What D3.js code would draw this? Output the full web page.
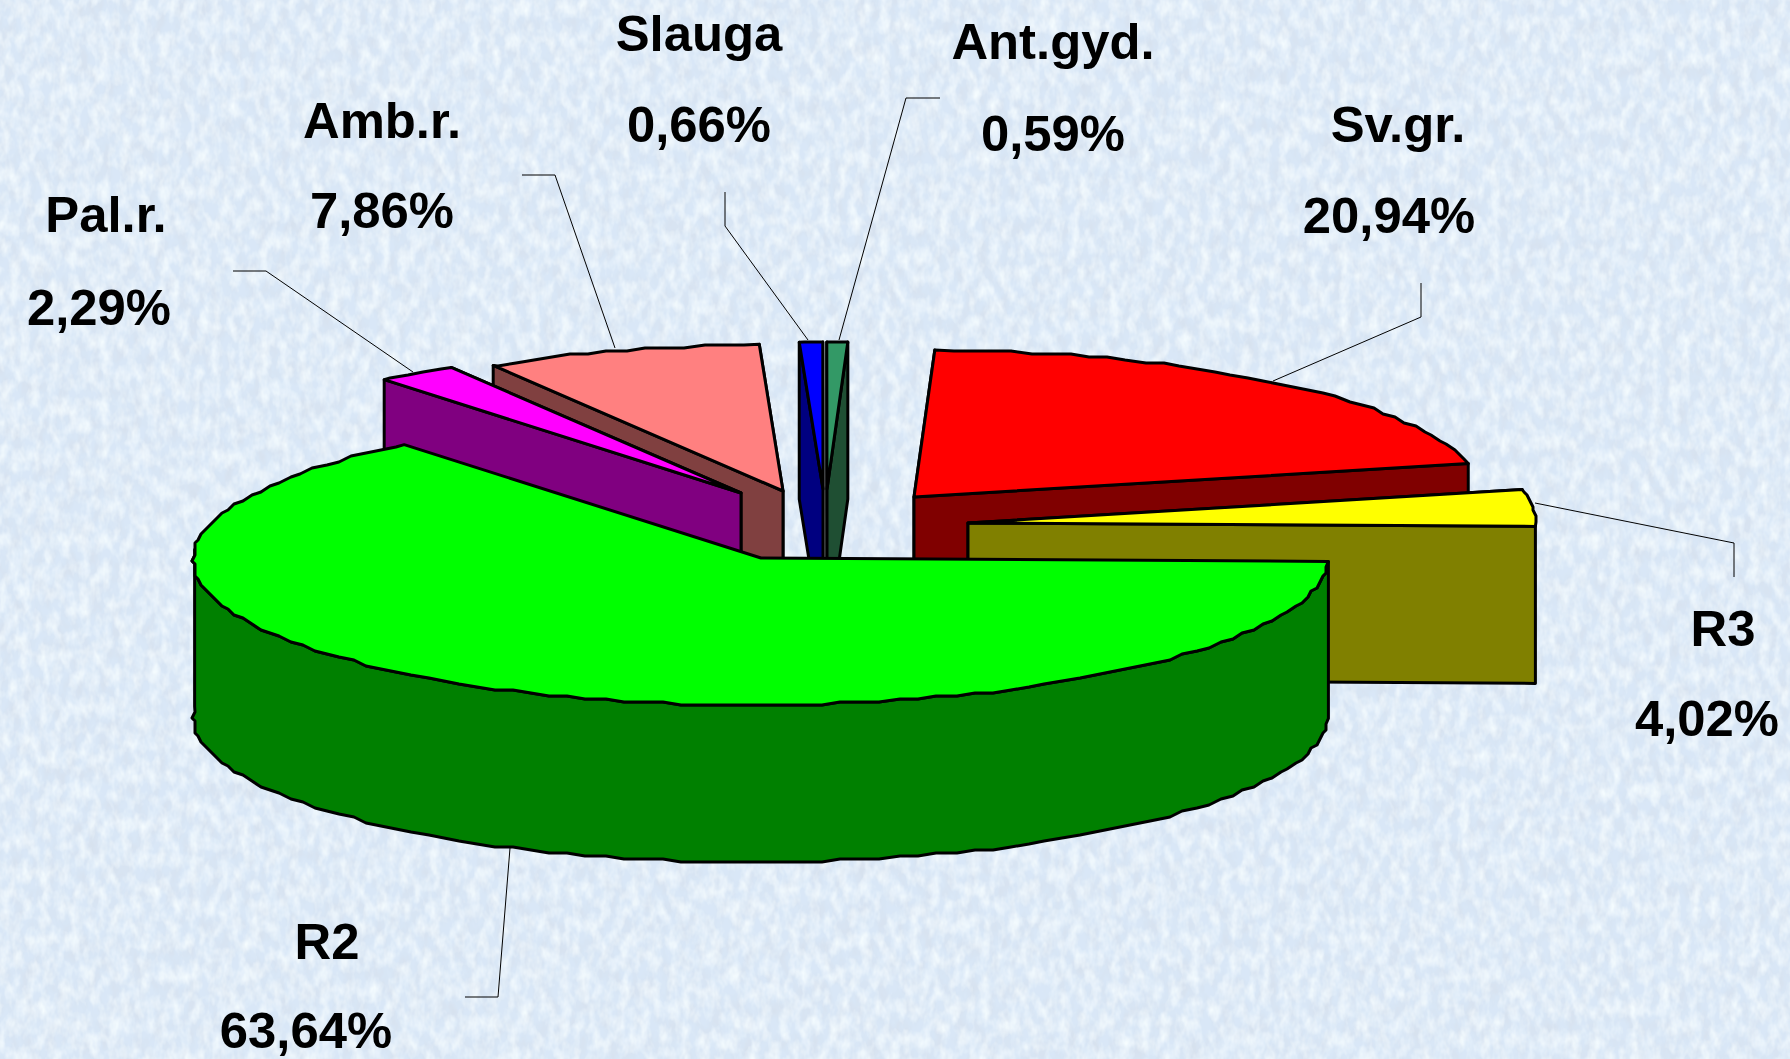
<!DOCTYPE html>
<html><head><meta charset="utf-8">
<script src="https://cdn.jsdelivr.net/npm/d3@7"></script>
<style>html,body{margin:0;padding:0;background:#dcebf9;overflow:hidden}svg{display:block}</style>
</head><body>
<svg id="c" width="1790" height="1059"></svg>
<script>
// ---- data ----
const categories = ["R2","Pal.r.","Amb.r.","Slauga","Ant.gyd.","Sv.gr.","R3"];
const shares     = [63.64, 2.29, 7.86, 0.66, 0.59, 20.94, 4.02];
const shareText  = ["63,64%","2,29%","7,86%","0,66%","0,59%","20,94%","4,02%"];
const topColors  = ["#00FF00","#FF00FF","#FF8080","#0000FF","#339966","#FF0000","#FFFF00"];
const sideColors = ["#008000","#800080","#804040","#000080","#1F4F33","#800000","#808000"];

// ---- layout of the exploded slices ----
const apexX = [761,741,783,823,827,914,968];
const apexY = [558,493,491,489,489,497,523];
const labelX = [306,99,382,699,1053,1389,1707];
const nameY  = [959,232,138,51,59,142,646];
const valY   = [1048,325,228,142,151,233,736];
const nameDx = [21,7,0,0,0,9,16];
const leaders = [
 [[465,997],[498,997],[510,848]],
 [[233,271],[266,271],[413,372]],
 [[522,175],[555,175],[615,348]],
 [[725,192],[725,226],[808,340]],
 [[940,98],[906,98],[839,340]],
 [[1421,283],[1421,317],[1273,381]],
 [[1734,577],[1734,543],[1535,503]]
];
const rx = 567.4, ry = 147, shear = 19.4, tilt = 3.4, depth = 157, grid = 3, stepDeg = 2;

const svg = d3.select("#c");
const defs = svg.append("defs");
const f = defs.append("filter").attr("id","tex").attr("x",0).attr("y",0).attr("width","100%").attr("height","100%");
f.append("feTurbulence").attr("type","fractalNoise").attr("baseFrequency","0.09 0.05").attr("numOctaves",3).attr("seed",7).attr("result","n");
f.append("feColorMatrix").attr("in","n").attr("type","matrix")
 .attr("values","0 0 0 0 0.68  0 0 0 0 0.75  0 0 0 0 0.85  1.7 0 0 0 -0.62").attr("result","d");
f.append("feTurbulence").attr("type","fractalNoise").attr("baseFrequency","0.1 0.06").attr("numOctaves",3).attr("seed",21).attr("result","n2");
f.append("feColorMatrix").attr("in","n2").attr("type","matrix")
 .attr("values","0 0 0 0 0.92  0 0 0 0 0.98  0 0 0 0 1  0 1.7 0 0 -0.62").attr("result","l");
f.append("feMerge").selectAll("feMergeNode").data(["SourceGraphic","d","l"]).enter().append("feMergeNode").attr("in",d=>d);
svg.append("rect").attr("width",1790).attr("height",1059).attr("fill","#d9e7f7").attr("filter","url(#tex)");

const xs = d3.scaleLinear().domain([-1,1]).range([-rx,rx]);
const ys = d3.scaleLinear().domain([-1,1]).range([-ry,ry]);
const pie = d3.pie().sort(null).startAngle(Math.PI/2).endAngle(Math.PI*2.5);
const arcs = pie(shares);
const line = d3.line().curve(d3.curveLinearClosed);
const snap = v => Math.round(v/grid)*grid;
const rad = Math.PI/180;

function pt(i,a){ // a: radians clockwise from east
  const c=Math.cos(a), s=Math.sin(a);
  return [apexX[i]+xs(c)-shear*s, apexY[i]+ys(s)+tilt*c];
}
function outer(i,a0,a1){ // samples at fixed angles, so rim and top share their vertices
  const out=[pt(i,a0)];
  for(let d=Math.ceil(a0/rad/stepDeg+0.01)*stepDeg; d*rad<a1-0.001; d+=stepDeg){
    const p=pt(i,d*rad);
    out.push([snap(p[0]),snap(p[1])]);
  }
  out.push(pt(i,a1));
  return out;
}
const down = p => [p[0],p[1]+depth];
const style = (sel,fill)=>sel.attr("fill",fill).attr("stroke","#000").attr("stroke-width",3).attr("stroke-linejoin","round");

// back to front: Amb, Pal, Slauga, Ant, Sv.gr, R3, R2
const order = [2,1,3,4,5,6,0];
const g = svg.append("g");
order.forEach(i=>{
  const a0=arcs[i].startAngle-Math.PI/2, a1=arcs[i].endAngle-Math.PI/2;
  const A=[apexX[i],apexY[i]], S=pt(i,a0), E=pt(i,a1);
  const startWall=[S,A,down(A),down(S)], endWall=[E,A,down(A),down(E)];
  const mid=(a0+a1)/2/rad;
  const walls = mid<268 ? [endWall,startWall] : [startWall,endWall];
  if(i!==0) walls.forEach(w=>style(g.append("path").attr("d",line(w)),sideColors[i]));
  if(a0<Math.PI){
    const rim=outer(i,Math.max(a0,0),Math.min(a1,182*rad));
    style(g.append("path").attr("d",line(rim.concat(rim.slice().reverse().map(down)))),sideColors[i]);
  }
  style(g.append("path").attr("d",line([A].concat(outer(i,a0,a1)))),topColors[i]);
});

// leaders
svg.append("g").selectAll("path").data(leaders).enter().append("path")
  .attr("d",d3.line()).attr("fill","none").attr("stroke","#000").attr("stroke-width",1);

// labels
const t = svg.append("g").attr("font-family","'Liberation Sans',Arial,sans-serif").attr("font-weight",700).attr("font-size",50.8).attr("text-anchor","middle").attr("fill","#000");
categories.forEach((c,i)=>{
  t.append("text").attr("x",labelX[i]+nameDx[i]).attr("y",nameY[i]).text(c);
  t.append("text").attr("x",labelX[i]).attr("y",valY[i]).text(shareText[i]);
});
</script>
</body></html>
